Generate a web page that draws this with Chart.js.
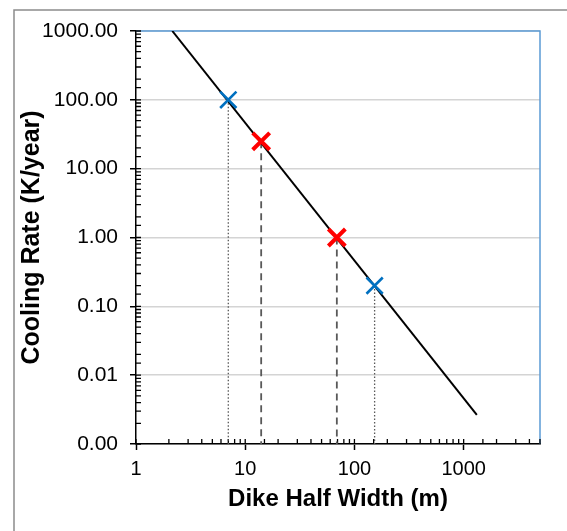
<!DOCTYPE html>
<html>
<head>
<meta charset="utf-8">
<script src="https://cdn.jsdelivr.net/npm/chart.js@4/dist/chart.umd.min.js"></script>
<style>
  html,body{margin:0;padding:0;background:#fff;}
  #wrap{position:relative;width:567px;height:531px;}
</style>
</head>
<body>
<div id="wrap"><canvas id="c" width="567" height="531"></canvas></div>
<script>
// Axis ranges
const xMin = 1, xMax = 5000;
const yMin = 0.001, yMax = 1000;
const xTickLabels = [1, 10, 100, 1000];
const yTickLabels = [0.001, 0.01, 0.1, 1, 10, 100, 1000];

// Fitted cooling-rate line (end points)
const lineX = [2.15, 1320];
const lineY = [1000, 0.00265];

// Blue markers
const blueX = [7, 153];
const blueY = [100, 0.2];

// Red markers
const redX = [14, 69];
const redY = [25, 1];

const pts = (xs, ys) => xs.map((x, i) => ({x: x, y: ys[i]}));
const isMajor = v => Math.abs(Math.log10(v) - Math.round(Math.log10(v))) < 1e-6;

const drops = (xs, ys, color, dash, width) => xs.map((x, i) => ({
  type: 'scatter', showLine: true,
  data: [{x: x, y: ys[i]}, {x: x, y: yMin}],
  borderColor: color, borderWidth: width, borderDash: dash,
  pointRadius: 0, fill: false
}));

const framePlugin = {
  id: 'frame',
  beforeDraw(chart) {
    const ctx = chart.ctx;
    ctx.save();
    ctx.fillStyle = '#fff';
    ctx.fillRect(0, 0, chart.width, chart.height);
    ctx.strokeStyle = '#8c8c8c';
    ctx.lineWidth = 1.5;
    ctx.beginPath();
    ctx.moveTo(14, chart.height);
    ctx.lineTo(14, 10);
    ctx.lineTo(chart.width, 10);
    ctx.stroke();
    ctx.restore();
  },
  beforeDatasetsDraw(chart) {
    const {ctx, chartArea: a} = chart;
    ctx.save();
    ctx.strokeStyle = '#5b9bd5';
    ctx.lineWidth = 1.5;
    ctx.beginPath();
    ctx.moveTo(a.left, a.top);
    ctx.lineTo(a.right, a.top);
    ctx.lineTo(a.right, a.bottom);
    ctx.stroke();
    // inward tick marks on both axes
    ctx.strokeStyle = '#000';
    ctx.lineWidth = 1.3;
    const ys = chart.scales.y, xs = chart.scales.x;
    ctx.beginPath();
    ys.ticks.forEach(t => {
      const p = ys.getPixelForValue(t.value);
      ctx.moveTo(a.left, p); ctx.lineTo(a.left + 5, p);
    });
    xs.ticks.forEach(t => {
      const p = xs.getPixelForValue(t.value);
      ctx.moveTo(p, a.bottom); ctx.lineTo(p, a.bottom - 5);
    });
    ctx.stroke();
    ctx.restore();
  }
};

new Chart(document.getElementById('c'), {
  type: 'scatter',
  data: {
    datasets: [
      {
        data: pts(redX, redY), pointStyle: 'crossRot', pointRadius: 12,
        borderColor: '#ff0000', backgroundColor: '#ff0000', pointBorderWidth: 4, showLine: false
      },
      {
        data: pts(blueX, blueY), pointStyle: 'crossRot', pointRadius: 11.5,
        borderColor: '#0070c0', backgroundColor: '#0070c0', pointBorderWidth: 2.6, showLine: false
      },
      {
        data: pts(lineX, lineY), showLine: true, borderColor: '#000', borderWidth: 2,
        pointRadius: 0, fill: false
      },
      ...drops(redX, redY, '#595959', [7, 5], 1.8),
      ...drops(blueX, blueY, '#595959', [1.5, 2], 1.3)
    ]
  },
  options: {
    responsive: false,
    animation: false,
    events: [],
    layout: {padding: {top: 31, right: 27, bottom: 0, left: 0}},
    plugins: {legend: {display: false}, tooltip: {enabled: false}},
    scales: {
      x: {
        type: 'logarithmic', min: xMin, max: xMax,
        afterFit(s) { s.height = 87; },
        border: {color: '#000', width: 1.5},
        grid: {
          drawOnChartArea: false, drawTicks: true, tickLength: 6,
          tickColor: c => (c.tick && isMajor(c.tick.value)) ? '#000' : 'rgba(0,0,0,0)',
          tickWidth: 1.5
        },
        ticks: {
          autoSkip: false, maxRotation: 0, padding: 7, color: '#000',
          font: {family: '"Liberation Sans", Arial, sans-serif', size: 20},
          callback: v => xTickLabels.some(t => Math.abs(t - v) < 1e-9) ? String(v) : ''
        },
        title: {
          display: true, text: 'Dike Half Width (m)', color: '#000',
          font: {family: '"Liberation Sans", Arial, sans-serif', size: 24, weight: 'bold'},
          padding: {top: 0, bottom: 17}
        }
      },
      y: {
        type: 'logarithmic', min: yMin, max: yMax,
        afterFit(s) { s.width = 136; },
        border: {color: '#000', width: 1.5},
        grid: {
          drawOnChartArea: true, drawTicks: true, tickLength: 6,
          color: c => (c.tick && isMajor(c.tick.value)) ? '#d4d4d4' : 'rgba(0,0,0,0)',
          lineWidth: 1.5,
          tickColor: c => (c.tick && isMajor(c.tick.value)) ? '#000' : 'rgba(0,0,0,0)',
          tickWidth: 1.5
        },
        ticks: {
          autoSkip: false, padding: 12, color: '#000',
          font: {family: '"Liberation Sans", Arial, sans-serif', size: 21},
          callback: v => yTickLabels.some(t => Math.abs(t - v) < t * 1e-6) ? Number(v).toFixed(2) : ''
        },
        title: {
          display: true, text: 'Cooling Rate (K/year)', color: '#000',
          font: {family: '"Liberation Sans", Arial, sans-serif', size: 25, weight: 'bold'},
          padding: {top: 17, bottom: 0}
        }
      }
    }
  },
  plugins: [framePlugin]
});
</script>
</body>
</html>
